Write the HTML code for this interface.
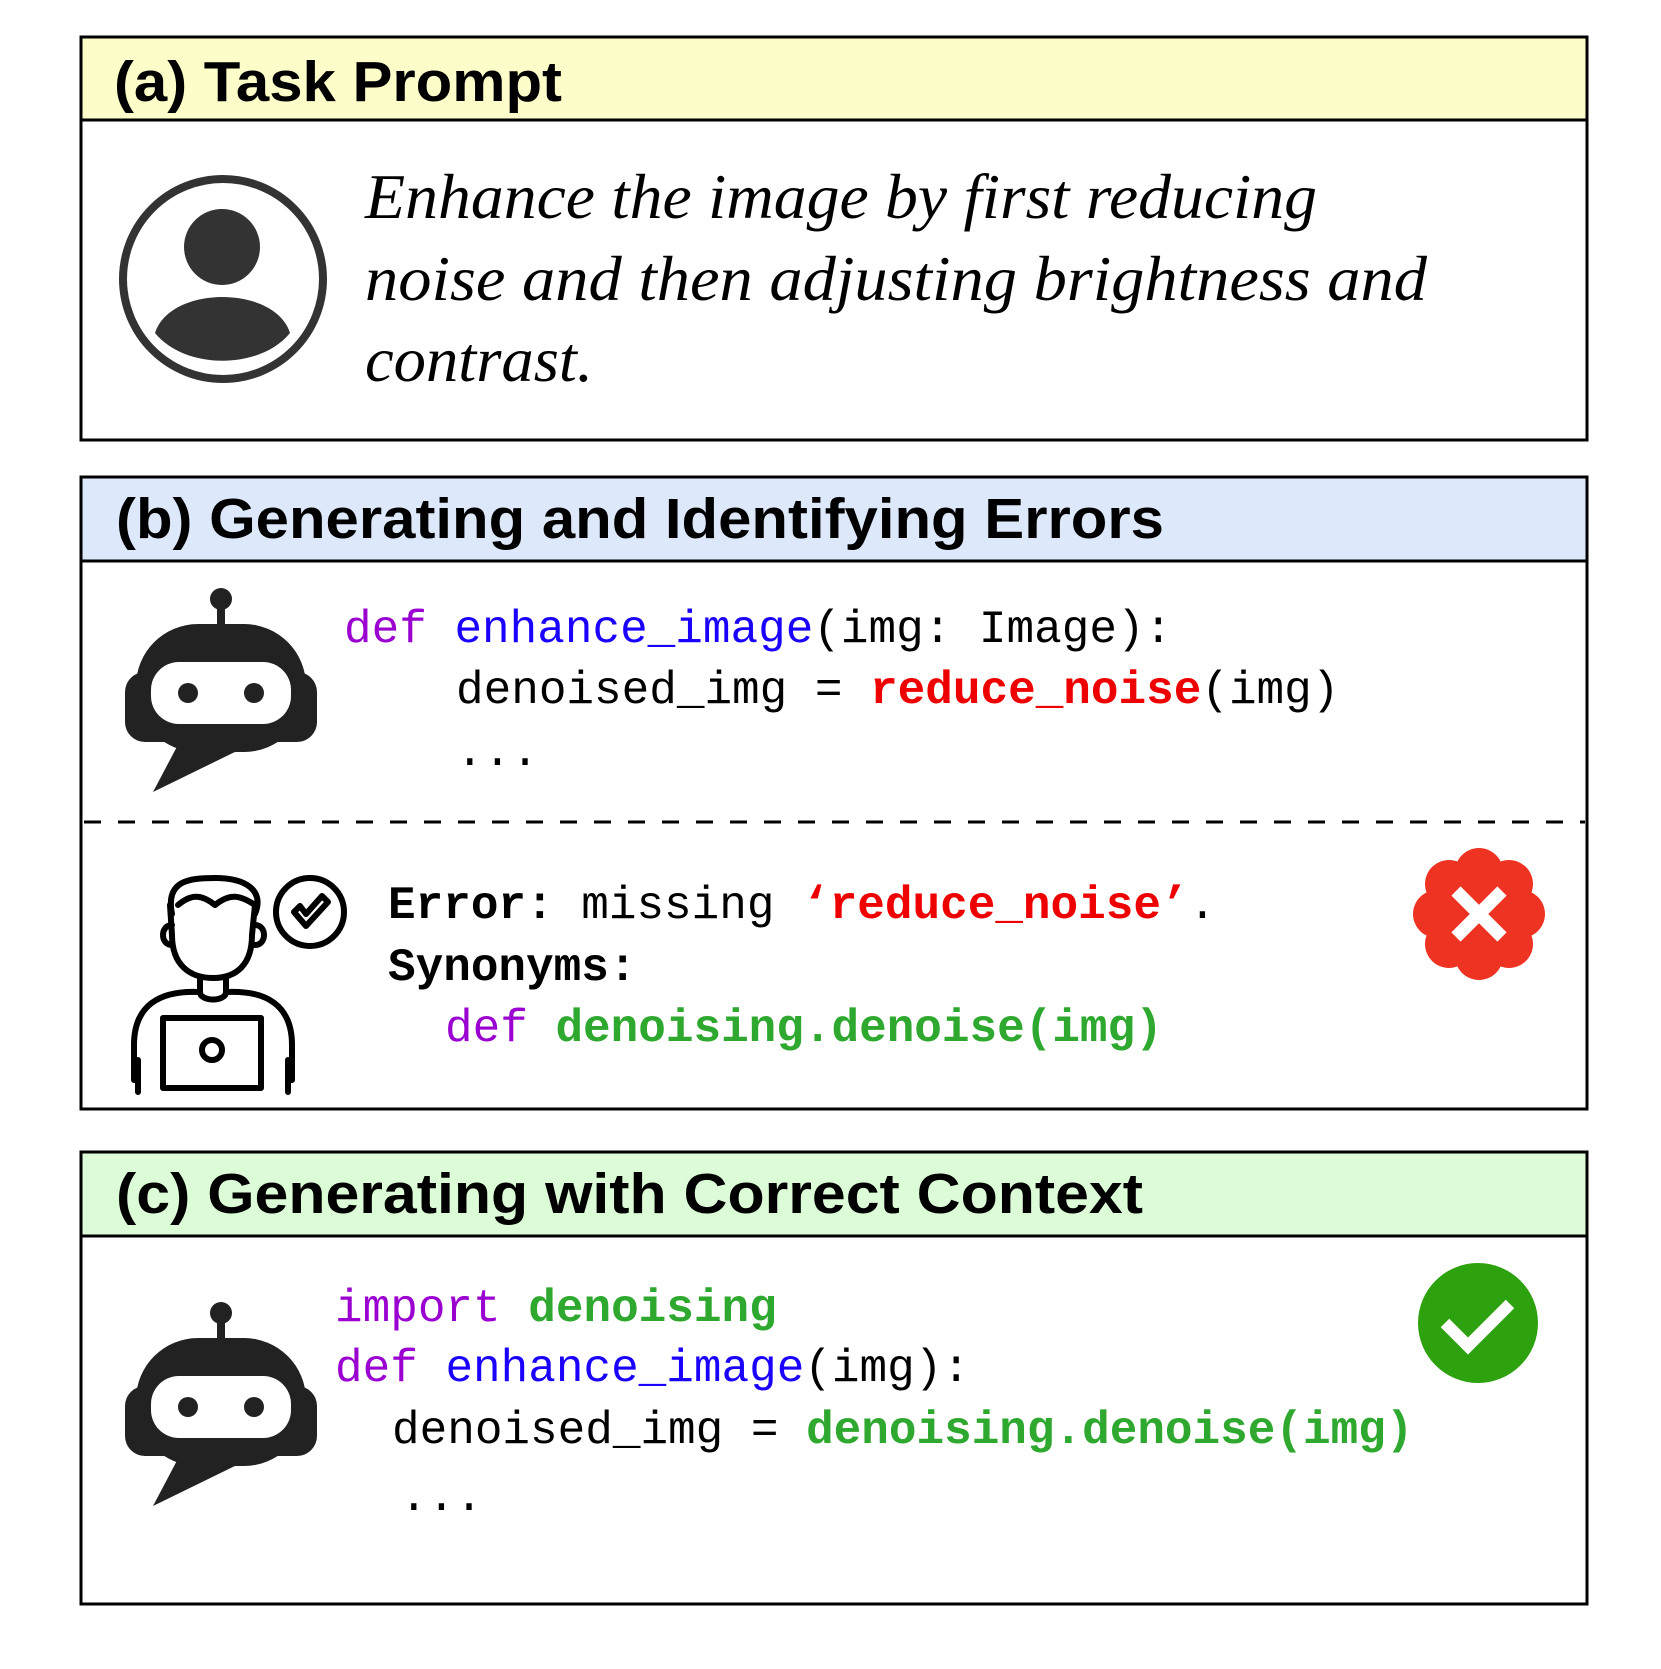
<!DOCTYPE html>
<html><head><meta charset="utf-8"><style>
html,body{margin:0;padding:0;background:#fff}
svg{display:block}
.h{font-family:"Liberation Sans",sans-serif;font-weight:bold;font-size:57px;fill:#000}
.it{font-family:"Liberation Serif",serif;font-style:italic;font-size:63px;fill:#000}
.m{font-family:"Liberation Mono",monospace;font-size:46px;fill:#000}
.p{fill:#9a00d0}.b{fill:#1a00ff}.r{fill:#ee0000;font-weight:bold}.g{fill:#2ea82e;font-weight:bold}.bd{font-weight:bold}
</style></head><body>
<svg width="1661" height="1669" viewBox="0 0 1661 1669" xmlns="http://www.w3.org/2000/svg">
<defs>
<g id="robot">
<circle cx="0" cy="-125" r="11" fill="#222"/>
<rect x="-4" y="-118" width="8" height="22" fill="#222"/>
<rect x="-85" y="-100" width="170" height="128" rx="62" fill="#222"/>
<rect x="-96" y="-52" width="192" height="70" rx="20" fill="#222"/>
<polygon points="-40,15 -68,68 20,25" fill="#222"/>
<rect x="-70" y="-62" width="140" height="62" rx="28" fill="#fff"/>
<circle cx="-33" cy="-31" r="10" fill="#222"/>
<circle cx="33" cy="-31" r="10" fill="#222"/>
</g>
</defs>
<!-- box a -->
<rect x="81" y="37" width="1506" height="83" fill="#fdfdc9"/>
<rect x="81" y="37" width="1506" height="403" fill="none" stroke="#000" stroke-width="3"/>
<line x1="81" y1="120" x2="1587" y2="120" stroke="#000" stroke-width="3"/>
<text class="h" x="114" y="101" textLength="448" lengthAdjust="spacingAndGlyphs">(a) Task Prompt</text>
<circle cx="223" cy="279" r="100" fill="none" stroke="#333" stroke-width="8"/>
<circle cx="222" cy="247" r="38" fill="#333"/>
<path d="M155,333 C170,285 275,285 290,333 C260,370 185,370 155,333Z" fill="#333"/>
<text class="it" x="365" y="218" textLength="952" lengthAdjust="spacingAndGlyphs">Enhance the image by first reducing</text>
<text class="it" x="365" y="300" textLength="1062" lengthAdjust="spacingAndGlyphs">noise and then adjusting brightness and</text>
<text class="it" x="365" y="381" textLength="228" lengthAdjust="spacingAndGlyphs">contrast.</text>
<!-- box b -->
<rect x="81" y="477" width="1506" height="84" fill="#dde9fb"/>
<rect x="81" y="477" width="1506" height="632" fill="none" stroke="#000" stroke-width="3"/>
<line x1="81" y1="561" x2="1587" y2="561" stroke="#000" stroke-width="3"/>
<line x1="84" y1="822" x2="1585" y2="822" stroke="#000" stroke-width="3" stroke-dasharray="17,17"/>
<text class="h" x="116" y="538" textLength="1048" lengthAdjust="spacingAndGlyphs">(b) Generating and Identifying Errors</text>
<use href="#robot" transform="translate(221,724)"/>
<text class="m" x="344" y="642"><tspan class="p">def</tspan> <tspan class="b">enhance_image</tspan>(img: Image):</text>
<text class="m" x="456" y="703">denoised_img = <tspan class="r">reduce_noise</tspan>(img)</text>
<text class="m" x="456" y="765">...</text>
<text class="m" x="388" y="918"><tspan class="bd">Error:</tspan> missing <tspan class="r">‘reduce_noise’</tspan>.</text>
<text class="m bd" x="388" y="980">Synonyms:</text>
<text class="m" x="445" y="1041"><tspan class="p">def</tspan> <tspan class="g">denoising.denoise(img)</tspan></text>
<!-- human icon -->
<g fill="none" stroke="#000" stroke-width="6" stroke-linejoin="round" stroke-linecap="round">
<path d="M172,914 C165,880 190,878 215,878 C245,878 265,890 255,914"/>
<path d="M170,905 L172,935 C172,965 190,978 213,978 C236,978 252,965 252,935 L255,905 C240,895 230,893 215,905 C200,893 190,895 178,905"/>
<path d="M172,925 C160,925 160,945 172,945 M255,925 C267,925 267,945 255,945"/>
<path d="M200,978 L200,992 C200,1002 226,1002 226,992 L226,978"/>
<path d="M134,1080 L134,1045 C134,1005 160,990 200,992 M226,992 C266,990 292,1005 292,1045 L292,1080"/>
<rect x="163" y="1018" width="98" height="70"/>
<circle cx="212" cy="1050" r="10"/>
<path d="M138,1060 L138,1092 M288,1060 L288,1092"/>
<circle cx="310" cy="912" r="34"/>
<path d="M294,912 L306,926 L328,902 L322,896 L306,914 L300,906Z"/>
</g>
<!-- red badge -->
<g fill="#ee3322">
<circle cx="1479" cy="914" r="52"/>
<circle cx="1479" cy="872" r="24"/><circle cx="1479" cy="956" r="24"/>
<circle cx="1437" cy="914" r="24"/><circle cx="1521" cy="914" r="24"/>
<circle cx="1449" cy="884" r="24"/><circle cx="1509" cy="884" r="24"/>
<circle cx="1449" cy="944" r="24"/><circle cx="1509" cy="944" r="24"/>
</g>
<path d="M1456,891 L1502,937 M1502,891 L1456,937" stroke="#fff" stroke-width="13"/>
<!-- box c -->
<rect x="81" y="1152" width="1506" height="84" fill="#dcfcd7"/>
<rect x="81" y="1152" width="1506" height="452" fill="none" stroke="#000" stroke-width="3"/>
<line x1="81" y1="1236" x2="1587" y2="1236" stroke="#000" stroke-width="3"/>
<text class="h" x="116" y="1213" textLength="1027" lengthAdjust="spacingAndGlyphs">(c) Generating with Correct Context</text>
<use href="#robot" transform="translate(221,1438)"/>
<text class="m" x="335" y="1321"><tspan class="p">import</tspan> <tspan class="g">denoising</tspan></text>
<text class="m" x="335" y="1381"><tspan class="p">def</tspan> <tspan class="b">enhance_image</tspan>(img):</text>
<text class="m" x="392" y="1443">denoised_img = <tspan class="g">denoising.denoise(img)</tspan></text>
<text class="m" x="400" y="1510">...</text>
<circle cx="1478" cy="1323" r="60" fill="#2ea20e"/>
<path d="M1445,1323 L1468,1346 L1510,1304" fill="none" stroke="#fff" stroke-width="12"/>
</svg>
</body></html>
